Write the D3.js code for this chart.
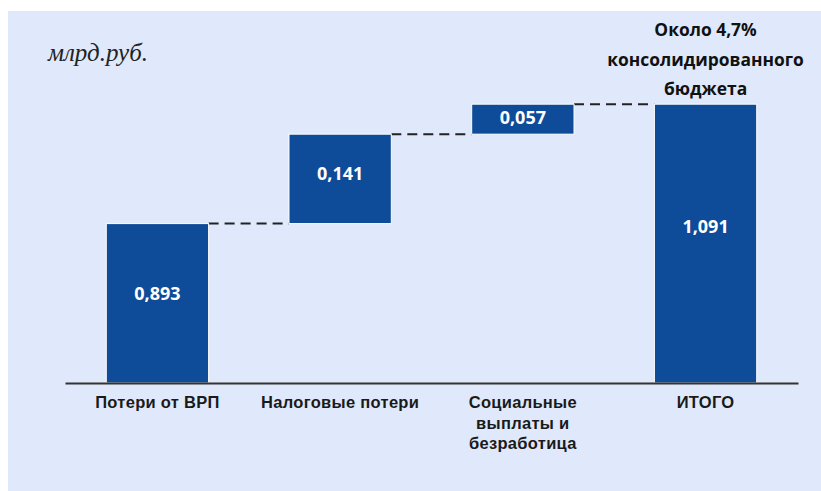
<!DOCTYPE html>
<html>
<head>
<meta charset="utf-8">
<script src="https://cdnjs.cloudflare.com/ajax/libs/d3/7.8.5/d3.min.js"></script>
<style>
  html, body { margin: 0; padding: 0; background: #fff; }
  svg { display: block; }
</style>
</head>
<body>
<div class="chart-waterfall"></div>
<script>
// categories and values (labels shown on the bars)
const categories = ['Потери от ВРП', 'Налоговые потери', 'Социальные выплаты и безработица', 'ИТОГО'];
const categoryLines = [['Потери от ВРП'], ['Налоговые потери'], ['Социальные', 'выплаты и', 'безработица'], ['ИТОГО']];
const values = [0.893, 0.141, 0.057, 1.091];
// step sizes as drawn in the original picture (it is not to scale)
const drawnSteps = [0.893, 0.501, 0.168];
const unitLabel = 'млрд.руб.';
const noteLines = ['Около 4,7%', 'консолидированного', 'бюджета'];

const w = 821;
const h = 491;
const fmt = (v) => d3.format('.3f')(v).replace('.', ',');

const svg = d3.select('.chart-waterfall').append('svg').attr('width', w).attr('height', h);

svg.append('rect')
    .attr('x', 8).attr('y', 11)
    .attr('width', w - 8).attr('height', h - 11)
    .attr('fill', '#dfe9fb');

const x = d3.scaleBand()
    .domain(categories)
    .range([65, 798])
    .paddingInner(0.44)
    .paddingOuter(0.226);

const y = d3.scaleLinear().domain([0, 1.6]).range([383, 97.4]);

// build waterfall segments
let run = 0;
const bars = categories.map((c, i) => {
    if (i < drawnSteps.length) {
        const d = { cat: c, value: values[i], y0: run, y1: run + drawnSteps[i] };
        run += drawnSteps[i];
        return d;
    }
    return { cat: c, value: values[i], y0: 0, y1: run };
});

// dashed connectors
svg.selectAll('.connector')
    .data(bars.slice(0, -1))
    .enter()
    .append('line')
    .attr('class', 'connector')
    .attr('x1', (d) => x(d.cat) + x.bandwidth())
    .attr('x2', (d, i) => x(bars[i + 1].cat))
    .attr('y1', (d) => y(d.y1))
    .attr('y2', (d) => y(d.y1))
    .attr('stroke', '#222')
    .attr('stroke-width', 2)
    .attr('stroke-dasharray', '10,6');

svg.selectAll('.bar')
    .data(bars)
    .enter()
    .append('rect')
    .attr('class', 'bar')
    .attr('x', (d) => x(d.cat))
    .attr('y', (d) => y(d.y1))
    .attr('width', x.bandwidth())
    .attr('height', (d) => y(d.y0) - y(d.y1))
    .attr('fill', '#0e4b98')
    .attr('stroke', '#fff')
    .attr('stroke-width', 1);

svg.selectAll('.value')
    .data(bars)
    .enter()
    .append('text')
    .attr('class', 'value')
    .attr('x', (d) => x(d.cat) + x.bandwidth() / 2)
    .attr('y', (d) => {
        const hh = y(d.y0) - y(d.y1);
        return (y(d.y0) + y(d.y1)) / 2 - 0.06 * hh;
    })
    .attr('dy', '0.35em')
    .attr('text-anchor', 'middle')
    .attr('fill', '#fff')
    .style('font', 'bold 18px "Open Sans", sans-serif')
    .text((d) => fmt(d.value));

// axis baseline
const axis = svg.append('g').attr('transform', `translate(0,${y(0)})`)
    .call(d3.axisBottom(x).tickSize(0).tickFormat(''));
axis.select('.domain').attr('stroke', '#333').attr('stroke-width', 2);

const catText = svg.selectAll('.cat')
    .data(categories)
    .enter()
    .append('text')
    .attr('class', 'cat')
    .attr('x', (d) => x(d) + x.bandwidth() / 2)
    .attr('y', 408)
    .attr('text-anchor', 'middle')
    .attr('fill', '#1a1a1a')
    .style('font', 'bold 16.5px "Liberation Sans", Arial, sans-serif')
    .style('letter-spacing', '0.3px');

catText.selectAll('tspan')
    .data((d, i) => categoryLines[i])
    .enter()
    .append('tspan')
    .attr('x', function () { return d3.select(this.parentNode).attr('x'); })
    .attr('dy', (d, i) => (i === 0 ? 0 : 20.5))
    .text((d) => d);

svg.append('text')
    .attr('x', 48)
    .attr('y', 61)
    .attr('fill', '#222')
    .style('font', 'italic 25px "Liberation Serif", "Times New Roman", serif')
    .text(unitLabel);

svg.append('text')
    .attr('text-anchor', 'middle')
    .attr('fill', '#111')
    .style('font', 'bold 17.4px "Open Sans", sans-serif')
    .selectAll('tspan')
    .data(noteLines)
    .enter()
    .append('tspan')
    .attr('x', x('ИТОГО') + x.bandwidth() / 2)
    .attr('y', (d, i) => 36 + i * 29.5)
    .text((d) => d);
</script>
</body>
</html>
